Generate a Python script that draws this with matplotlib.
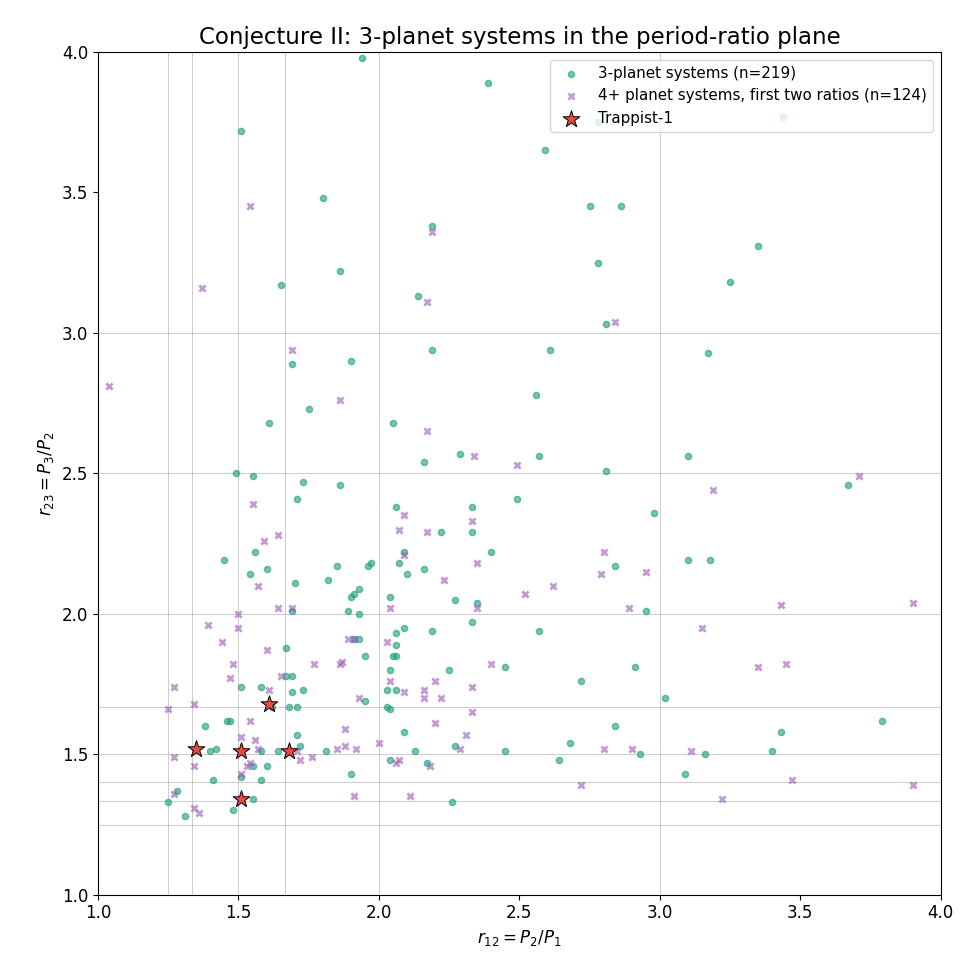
import matplotlib
matplotlib.use("Agg")
import matplotlib.pyplot as plt
import numpy as np

g = [(1.94,3.98),(2.39,3.89),(1.51,3.72),(2.59,3.65),(3.44,3.77),(2.78,3.75),(1.80,3.48),(2.75,3.45),(2.86,3.45),(2.19,3.38),(3.35,3.31),(2.78,3.25),(1.86,3.22),(3.25,3.18),(1.65,3.17),(2.14,3.13),(2.81,3.03),(2.19,2.94),(2.61,2.94),(3.17,2.93),(1.90,2.90),(1.69,2.89),(2.56,2.78),(1.75,2.73),(1.61,2.68),(2.05,2.68),(2.29,2.57),(2.57,2.56),(3.10,2.56),(2.16,2.54),(2.81,2.51),(1.49,2.50),(1.55,2.49),(1.73,2.47),(1.86,2.46),(3.67,2.46),(2.49,2.41),(1.71,2.41),(2.06,2.38),(2.33,2.38),(2.98,2.36),(2.33,2.29),(2.22,2.29),(2.09,2.22),(2.40,2.22),(1.56,2.22),(1.45,2.19),(3.10,2.19),(3.18,2.19),(2.07,2.18),(1.97,2.18),(1.85,2.17),(2.84,2.17),(1.96,2.17),(2.16,2.16),(1.60,2.16),(1.54,2.14),(2.10,2.14),(1.82,2.12),(1.70,2.11),(1.93,2.09),(1.91,2.07),(1.90,2.06),(2.04,2.06),(2.27,2.05),(2.35,2.04),(1.89,2.01),(1.93,2.00),(1.69,2.01),(2.95,2.01),(2.57,1.94),(2.33,1.97),(2.09,1.95),(2.19,1.94),(2.06,1.93),(1.93,1.91),(1.91,1.91),(2.06,1.89),(1.67,1.88),(2.05,1.85),(2.06,1.85),(1.95,1.85),(2.45,1.81),(2.25,1.80),(2.91,1.81),(2.04,1.80),(1.67,1.78),(1.69,1.78),(2.72,1.76),(1.58,1.74),(1.51,1.74),(1.73,1.73),(2.03,1.73),(2.06,1.73),(1.69,1.72),(3.02,1.70),(1.95,1.69),(2.03,1.67),(1.68,1.67),(1.71,1.67),(2.04,1.66),(1.62,1.67),(3.79,1.62),(1.47,1.62),(1.46,1.62),(2.84,1.60),(1.38,1.60),(3.43,1.58),(2.09,1.58),(1.71,1.57),(2.68,1.54),(1.72,1.53),(2.27,1.53),(2.17,1.47),(1.81,1.51),(1.64,1.51),(1.58,1.51),(1.40,1.51),(1.42,1.52),(2.13,1.51),(2.45,1.51),(2.93,1.50),(3.16,1.50),(3.40,1.51),(2.04,1.48),(2.64,1.48),(1.60,1.46),(1.55,1.46),(1.28,1.37),(1.41,1.41),(1.58,1.41),(1.51,1.42),(1.90,1.43),(3.09,1.43),(1.25,1.33),(1.55,1.34),(2.26,1.33),(1.31,1.28),(1.48,1.30)]
p = [(1.04,2.81),(1.37,3.16),(1.54,3.45),(2.19,3.36),(2.84,3.04),(2.17,3.11),(1.69,2.94),(1.86,2.76),(2.17,2.65),(2.34,2.56),(2.49,2.53),(3.71,2.49),(3.19,2.44),(1.55,2.39),(2.09,2.35),(2.33,2.33),(2.07,2.30),(2.17,2.29),(1.64,2.28),(1.59,2.26),(2.80,2.22),(2.09,2.21),(2.35,2.18),(2.95,2.15),(2.79,2.14),(2.23,2.12),(1.57,2.10),(2.62,2.10),(2.52,2.07),(3.43,2.03),(3.90,2.04),(1.69,2.02),(1.64,2.02),(2.04,2.02),(2.35,2.02),(2.89,2.02),(1.50,2.00),(1.39,1.96),(1.50,1.95),(3.15,1.95),(1.44,1.90),(2.03,1.90),(1.89,1.91),(1.91,1.91),(1.60,1.87),(1.87,1.83),(1.86,1.82),(1.77,1.82),(2.40,1.82),(3.45,1.82),(3.35,1.81),(1.48,1.82),(1.27,1.74),(1.47,1.77),(2.16,1.73),(1.61,1.73),(2.33,1.74),(2.20,1.76),(2.04,1.76),(1.65,1.78),(2.09,1.72),(2.16,1.70),(2.22,1.70),(1.93,1.70),(1.34,1.68),(1.25,1.66),(2.33,1.65),(1.54,1.62),(2.20,1.61),(1.88,1.59),(2.31,1.57),(1.51,1.56),(1.56,1.55),(2.00,1.54),(1.88,1.53),(2.29,1.52),(1.85,1.52),(1.92,1.52),(1.57,1.52),(2.80,1.52),(2.90,1.52),(3.11,1.51),(1.27,1.49),(1.76,1.49),(1.72,1.48),(1.54,1.47),(2.06,1.47),(2.07,1.48),(1.53,1.46),(1.34,1.46),(2.18,1.46),(1.51,1.43),(1.71,1.51),(3.47,1.41),(2.72,1.39),(3.90,1.39),(2.11,1.35),(1.91,1.35),(3.22,1.34),(1.27,1.36),(1.34,1.31),(1.36,1.29)]
trap_r12 = [1.35, 1.51, 1.61, 1.68, 1.51]
trap_r23 = [1.52, 1.51, 1.68, 1.51, 1.34]
vres = [5/4, 4/3, 3/2, 5/3, 2, 3]
hres = [5/4, 4/3, 7/5, 3/2, 5/3, 2, 5/2, 3]

g = np.array(g); p = np.array(p)
fig, ax = plt.subplots(figsize=(9.8, 9.8), dpi=100)
for v in vres:
    ax.axvline(v, color='#aaaaaa', lw=0.6, alpha=0.7, zorder=0)
for h in hres:
    ax.axhline(h, color='#aaaaaa', lw=0.6, alpha=0.7, zorder=0)
ax.scatter(g[:,0], g[:,1], s=20, color='#1b9e77', alpha=0.6, label='3-planet systems (n=219)')
ax.scatter(p[:,0], p[:,1], s=20, marker='x', color='#9b59b6', alpha=0.6, lw=2, label='4+ planet systems, first two ratios (n=124)')
ax.scatter(trap_r12, trap_r23, s=160, marker='*', color='#e74c3c', edgecolor='black', lw=0.7, label='Trappist-1', zorder=5)
ax.set_xlim(1, 4); ax.set_ylim(1, 4)
ax.set_xlabel(r'$r_{12} = P_2/P_1$', fontsize=12)
ax.set_ylabel(r'$r_{23} = P_3/P_2$', fontsize=12)
ax.set_title('Conjecture II: 3-planet systems in the period-ratio plane', fontsize=16.5)
ax.tick_params(labelsize=12)
ax.legend(loc='upper right', fontsize=10.9)
fig.subplots_adjust(left=0.1, right=0.96, bottom=0.087, top=0.947)
fig.savefig('out.png')
